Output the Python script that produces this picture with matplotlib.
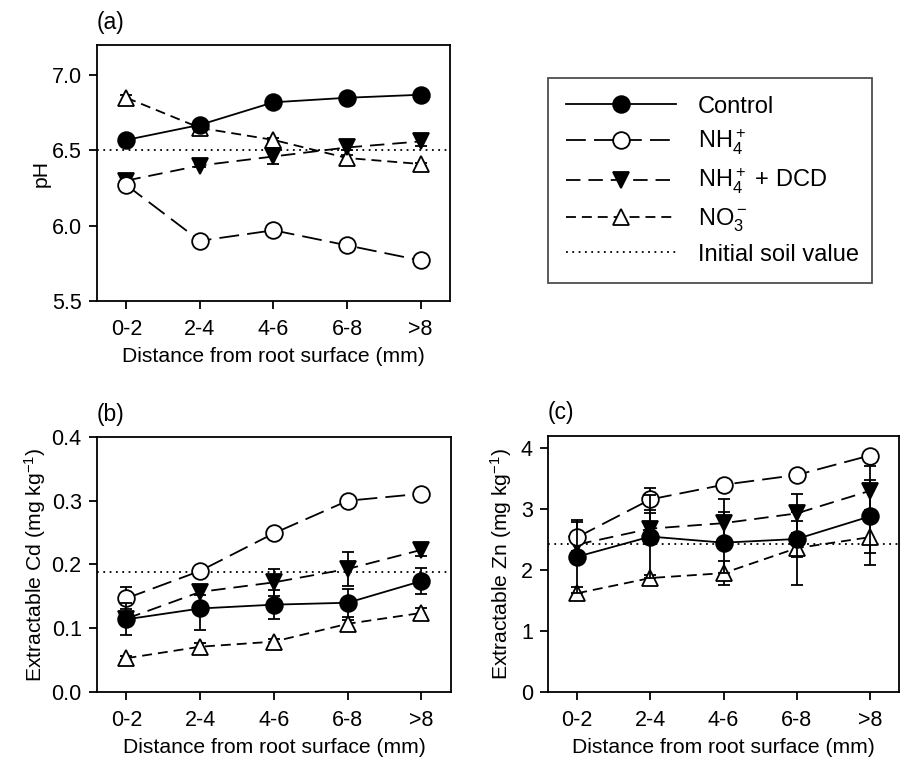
import numpy as np
import matplotlib
matplotlib.use('Agg')
import matplotlib.pyplot as plt
from matplotlib.lines import Line2D

plt.rcParams['font.family'] = ['Liberation Sans', 'DejaVu Sans']
plt.rcParams['font.size'] = 15.2
plt.rcParams['mathtext.fontset'] = 'custom'
plt.rcParams['mathtext.rm'] = 'Liberation Sans'
plt.rcParams['mathtext.it'] = 'Liberation Sans'
plt.rcParams['mathtext.default'] = 'regular'

# data
dist = ['0-2', '2-4', '4-6', '6-8', '>8']

ph_control = [6.57, 6.67, 6.82, 6.85, 6.87]
ph_control_err = [0.01, 0.03, 0.01, 0.03, 0.01]
ph_nh4 = [6.27, 5.90, 5.97, 5.87, 5.77]
ph_nh4_err = [0.02, 0.01, 0.01, 0.01, 0.01]
ph_dcd = [6.30, 6.40, 6.46, 6.52, 6.56]
ph_dcd_err = [0.02, 0.01, 0.05, 0.02, 0.03]
ph_no3 = [6.85, 6.65, 6.57, 6.45, 6.41]
ph_no3_err = [0.02, 0.03, 0.01, 0.02, 0.01]
ph_initial = 6.5

cd_control = [0.114, 0.131, 0.137, 0.140, 0.174]
cd_control_err = [0.025, 0.033, 0.023, 0.022, 0.02]
cd_nh4 = [0.147, 0.190, 0.249, 0.300, 0.311]
cd_nh4_err = [0.017, 0.004, 0.004, 0.003, 0.004]
cd_dcd = [0.115, 0.157, 0.172, 0.193, 0.223]
cd_dcd_err = [0.01, 0.005, 0.021, 0.027, 0.01]
cd_no3 = [0.053, 0.071, 0.079, 0.107, 0.124]
cd_no3_err = [0.003, 0.006, 0.004, 0.006, 0.008]
cd_initial = 0.188

zn_control = [2.22, 2.55, 2.45, 2.51, 2.88]
zn_control_err = [0.6, 0.68, 0.5, 0.3, 0.6]
zn_nh4 = [2.54, 3.16, 3.40, 3.56, 3.88]
zn_nh4_err = [0.25, 0.18, 0.05, 0.05, 0.05]
zn_dcd = [2.42, 2.68, 2.77, 2.93, 3.30]
zn_dcd_err = [0.1, 0.25, 0.39, 0.32, 0.4]
zn_no3 = [1.62, 1.87, 1.95, 2.36, 2.54]
zn_no3_err = [0.1, 0.05, 0.2, 0.6, 0.45]
zn_initial = 2.43

lw = 1.3
styles = {
    'control': dict(ls='-', marker='o', mfc='black'),
    'nh4': dict(ls=(0, (11, 4.5)), marker='o', mfc='white'),
    'dcd': dict(ls=(0, (8, 4.4)), marker='v', mfc='black'),
    'no3': dict(ls=(0, (5.5, 3.3)), marker='^', mfc='white'),
}
labels = {
    'control': 'Control',
    'nh4': r'NH$_4^+$',
    'dcd': r'NH$_4^+$ + DCD',
    'no3': r'NO$_3^-$',
}

fig = plt.figure(figsize=(9.03, 7.6), dpi=100)
ax_a = fig.add_axes([0.1074, 0.6039, 0.3909, 0.3368])
ax_b = fig.add_axes([0.1074, 0.0895, 0.3920, 0.3355])
ax_c = fig.add_axes([0.6069, 0.0895, 0.3887, 0.3368])

x = np.arange(len(dist))


def panel(ax, series, initial, ylim, yticks, fmt, ylabel, tag, ypad):
    ax.axhline(initial, color='black', lw=1.3, ls=(0, (1, 2.5)), zorder=1)
    order = ['no3', 'dcd', 'nh4', 'control']
    for z, key in enumerate(order):
        y, e = series[key]
        st = styles[key]
        ax.errorbar(x, y, yerr=e, color='black', lw=lw, ls=st['ls'],
                    marker=st['marker'], ms=12, mfc=st['mfc'], mec='black',
                    mew=1.3, capsize=4, capthick=1.3, elinewidth=1.3,
                    zorder=2 + z)
    ax.set_xlim(-0.4, 4.4)
    ax.set_ylim(*ylim)
    ax.set_xticks(x)
    ax.set_xticklabels(dist)
    ax.set_yticks(yticks)
    ax.set_yticklabels([fmt.format(v) for v in yticks])
    ax.tick_params(direction='out', length=6, width=1.3, pad=7,
                   labelsize=15.5)
    ax.tick_params(axis='y', pad=5)
    for s in ax.spines.values():
        s.set_linewidth(1.3)
    ax.set_xlabel('Distance from root surface (mm)', labelpad=5)
    ax.set_ylabel(ylabel, labelpad=ypad)
    ax.text(0.0, 1.045, tag, transform=ax.transAxes, ha='left', va='bottom',
            fontsize=16.5)


panel(ax_a,
      {'control': (ph_control, ph_control_err), 'nh4': (ph_nh4, ph_nh4_err),
       'dcd': (ph_dcd, ph_dcd_err), 'no3': (ph_no3, ph_no3_err)},
      ph_initial, (5.5, 7.2), [5.5, 6.0, 6.5, 7.0], '{:.1f}', 'pH', '(a)', 1)
panel(ax_b,
      {'control': (cd_control, cd_control_err), 'nh4': (cd_nh4, cd_nh4_err),
       'dcd': (cd_dcd, cd_dcd_err), 'no3': (cd_no3, cd_no3_err)},
      cd_initial, (0.0, 0.4), [0.0, 0.1, 0.2, 0.3, 0.4], '{:.1f}',
      r'Extractable Cd (mg kg$^{-1}$)', '(b)', 2.5)
panel(ax_c,
      {'control': (zn_control, zn_control_err), 'nh4': (zn_nh4, zn_nh4_err),
       'dcd': (zn_dcd, zn_dcd_err), 'no3': (zn_no3, zn_no3_err)},
      zn_initial, (0.0, 4.2), [0, 1, 2, 3, 4], '{:d}',
      r'Extractable Zn (mg kg$^{-1}$)', '(c)', 5)

handles = []
for key in ['control', 'nh4', 'dcd', 'no3']:
    st = styles[key]
    handles.append(Line2D([], [], color='black', lw=lw, ls=st['ls'],
                          marker=st['marker'], ms=12, mfc=st['mfc'],
                          mec='black', mew=1.3, label=labels[key]))
handles.append(Line2D([], [], color='black', lw=1.3, ls=(0, (1, 2.5)),
                      label='Initial soil value'))

leg = fig.legend(handles=handles, loc='upper left',
                 bbox_to_anchor=(0.6069, 0.6289, 0.3588, 0.2684),
                 mode='expand', borderaxespad=0, frameon=True, fancybox=False,
                 handlelength=4.65, handletextpad=0.95, labelspacing=0.42,
                 borderpad=0.75, fontsize=17)
leg.get_frame().set_edgecolor('#222222')
leg.get_frame().set_linewidth(1.3)

fig.savefig('out.png', dpi=100)
